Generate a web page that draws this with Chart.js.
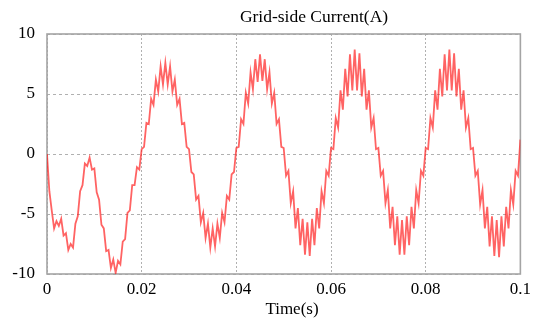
<!DOCTYPE html>
<html>
<head>
<meta charset="utf-8">
<script src="https://cdn.jsdelivr.net/npm/chart.js@4.4.0/dist/chart.umd.min.js"></script>
<style>
  html, body { margin: 0; padding: 0; background: #fff; }
  #wrap { width: 536px; height: 319px; }
</style>
</head>
<body>
<div id="wrap"><canvas id="currentChart" width="536" height="319"></canvas></div>
<script>
// --- Chart data ---
const chartTitle = 'Grid-side Current(A)';
const xAxisTitle = 'Time(s)';
const xTickLabels = ['0', '0.02', '0.04', '0.06', '0.08', '0.1'];
const yTickLabels = ['-10', '-5', '0', '5', '10'];
const sampleStep = 0.0005; // seconds between samples, alternating ripple high / low

// Grid-side current samples (A), t = 0 .. 0.1 s
const currentA = [
    0, -3.1, -4.7, -6.2, -5.6, -6.0, -5.4, -6.8, -6.6, -8.0,
    -7.5, -7.8, -5.8, -5.2, -3.1, -2.6, -0.8, -1.0, -0.3, -1.3,
    -1.2, -3.2, -3.8, -5.9, -6.2, -8.1, -8.0, -9.5, -8.8, -9.9,
    -8.9, -9.2, -7.3, -7.1, -4.9, -4.7, -2.6, -2.6, -1.1, -1.3,
    0.4,
    0.6, 2.6, 2.5, 4.6, 4.1, 6.2, 5.2, 7.3, 5.8, 7.6,
    5.8, 7.3, 5.2, 6.2, 4.1, 4.6, 2.5, 2.6, 0.6, 0.4,
    -1.5, -1.7, -3.8, -3.5, -5.7, -4.9, -7.0, -5.8, -7.8, -6.2,
    -7.7, -5.8, -7.0, -4.9, -5.7, -3.5, -3.8, -1.7, -1.5, 0.5,
    0.6, 2.9, 2.5, 5.1, 4.2, 6.8, 5.4, 7.9, 6.0, 8.3,
    6.1, 7.9, 5.4, 6.8, 4.2, 5.1, 2.5, 2.9, 0.6, 0.5,
    -1.8, -1.4, -4.1, -3.1, -6.2, -4.5, -7.6, -5.4, -8.4, -5.7,
    -8.5, -5.4, -7.6, -4.5, -6.2, -3.1, -4.1, -1.4, -1.8, 0.5,
    0.4, 3.0, 2.2, 5.3, 3.7, 7.1, 4.8, 8.3, 5.3, 8.7,
    5.3, 8.4, 4.8, 7.1, 3.7, 5.3, 2.2, 3.0, 0.4, 0.5,
    -1.8, -1.4, -4.1, -3.0, -6.2, -4.4, -7.6, -5.2, -8.4, -5.5,
    -8.4, -5.2, -7.6, -4.4, -6.2, -3.0, -4.1, -1.4, -1.8, 0.5,
    0.4, 3.0, 2.2, 5.3, 3.7, 7.1, 4.8, 8.3, 5.3, 8.7,
    5.3, 8.4, 4.8, 7.1, 3.7, 5.3, 2.2, 3.0, 0.4, 0.5,
    -1.8, -1.4, -4.2, -3.0, -6.2, -4.4, -7.7, -5.2, -8.5, -5.5,
    -8.6, -5.2, -7.7, -4.4, -6.2, -3.0, -4.2, -1.4, -1.8, 1.2
];

// --- Styling ---
const serif = "'Liberation Serif', 'Times New Roman', serif";
const gridGrey = '#b0b0b0';

const points = currentA.map((v, i) => ({ x: i * sampleStep, y: v }));

// plot frame (all four sides), the title above the plot and the x axis name
const framePlugin = {
    id: 'frame',
    beforeDatasetsDraw(chart) {
        const { ctx, chartArea: a } = chart;
        ctx.save();
        ctx.strokeStyle = '#a4a4a4';
        ctx.lineWidth = 1.6;
        ctx.strokeRect(a.left, a.top, a.right - a.left, a.bottom - a.top);
        ctx.restore();
    },
    afterDraw(chart) {
        const ctx = chart.ctx;
        ctx.save();
        ctx.fillStyle = '#000';
        ctx.textAlign = 'center';
        ctx.textBaseline = 'middle';
        ctx.font = '17.5px ' + serif;
        ctx.fillText(chartTitle, 314, 17);
        ctx.font = '17px ' + serif;
        ctx.fillText(xAxisTitle, 292, 310);
        ctx.restore();
    }
};

new Chart(document.getElementById('currentChart'), {
    type: 'line',
    data: {
        datasets: [{
            data: points,
            borderColor: 'rgba(255, 25, 25, 0.68)',
            borderWidth: 1.8,
            pointRadius: 0,
            tension: 0,
            fill: false
        }]
    },
    options: {
        responsive: false,
        animation: false,
        devicePixelRatio: 1,
        layout: { padding: { left: 0, right: 14, top: 34, bottom: 0 } },
        plugins: {
            legend: { display: false },
            tooltip: { enabled: false }
        },
        scales: {
            x: {
                type: 'linear',
                min: 0,
                max: 0.1,
                afterFit: s => { s.height = 45; },
                ticks: {
                    stepSize: 0.02,
                    autoSkip: false,
                    maxRotation: 0,
                    padding: 5,
                    color: '#000',
                    font: { family: serif, size: 17 },
                    callback: (v, i) => xTickLabels[i]
                },
                grid: { color: gridGrey, drawTicks: false },
                border: { display: false, dash: [2, 2] }
            },
            y: {
                min: -10,
                max: 10,
                afterFit: s => { s.width = 47; },
                ticks: {
                    stepSize: 5,
                    padding: 12,
                    color: '#000',
                    font: { family: serif, size: 17 },
                    callback: (v, i) => yTickLabels[i]
                },
                grid: { color: gridGrey, drawTicks: false },
                border: { display: false, dash: [3, 3] }
            }
        }
    },
    plugins: [framePlugin]
});
</script>
</body>
</html>
